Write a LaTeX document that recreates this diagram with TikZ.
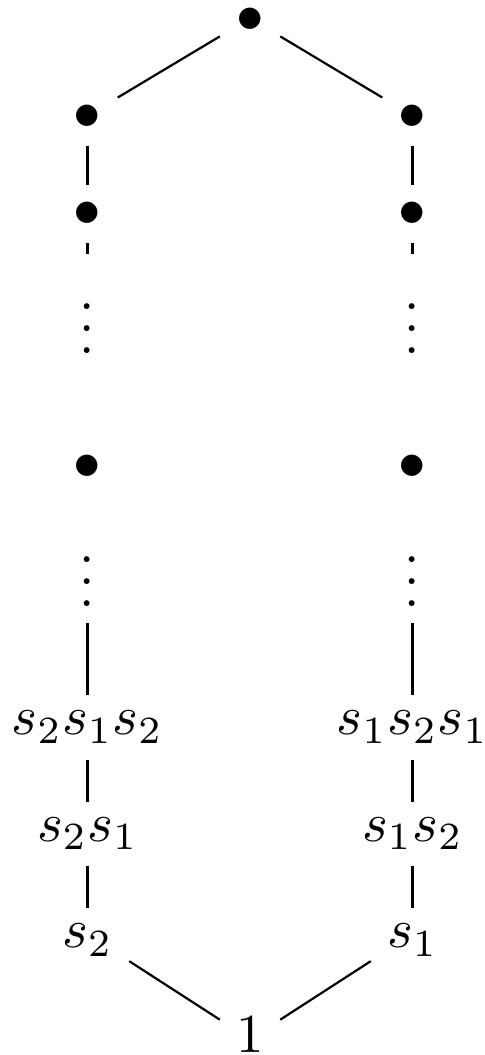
\documentclass[tikz,border=0pt]{standalone}
\usetikzlibrary{cd}
\tikzset{
  elem/.style={shape=asymmetrical rectangle, inner sep=2.8pt},
  link/.style={line width=0.4pt}
}
\begin{document}
\begin{tikzpicture}
\useasboundingbox (0,0) rectangle (3.099,-6.742);

%% Top element
\node[elem] (top) at (1.598,-0.117) {$\bullet$};

%% Left chain
\node[elem] (lb1)   at (0.559,-0.739) {$\bullet$};
\node[elem] (lb2)   at (0.559,-1.359) {$\bullet$};
\node[elem] (ldot1) at (0.559,-2.169) {$\vdots$};
\node[elem] (lb3)   at (0.559,-2.978) {$\bullet$};
\node[elem] (ldot2) at (0.559,-3.788) {$\vdots$};
\node[elem] (l3)    at (0.559,-4.609) {$s_2s_1s_2$};
\node[elem] (l2)    at (0.559,-5.291) {$s_2s_1$};
\node[elem] (l1)    at (0.559,-5.970) {$s_2$};

%% Right chain
\node[elem] (rb1)   at (2.636,-0.739) {$\bullet$};
\node[elem] (rb2)   at (2.636,-1.359) {$\bullet$};
\node[elem] (rdot1) at (2.636,-2.169) {$\vdots$};
\node[elem] (rb3)   at (2.636,-2.978) {$\bullet$};
\node[elem] (rdot2) at (2.636,-3.788) {$\vdots$};
\node[elem] (r3)    at (2.636,-4.609) {$s_1s_2s_1$};
\node[elem] (r2)    at (2.636,-5.291) {$s_1s_2$};
\node[elem] (r1)    at (2.636,-5.970) {$s_1$};

%% Identity
\node[elem] (one) at (1.598,-6.641) {$1$};

%% Top of the order
\draw[link] (top) -- (lb1);
\draw[link] (top) -- (rb1);
\draw[link] (lb1) -- (lb2);
\draw[link] (rb1) -- (rb2);
\draw[link] (lb2) -- (ldot1);
\draw[link] (rb2) -- (rdot1);

%% Bottom of the order
\draw[link] (ldot2) -- (l3);
\draw[link] (rdot2) -- (r3);
\draw[link] (l3) -- (l2);
\draw[link] (r3) -- (r2);
\draw[link] (l2) -- (l1);
\draw[link] (r2) -- (r1);
\draw[link] (l1) -- (one);
\draw[link] (r1) -- (one);

\end{tikzpicture}
\end{document}
